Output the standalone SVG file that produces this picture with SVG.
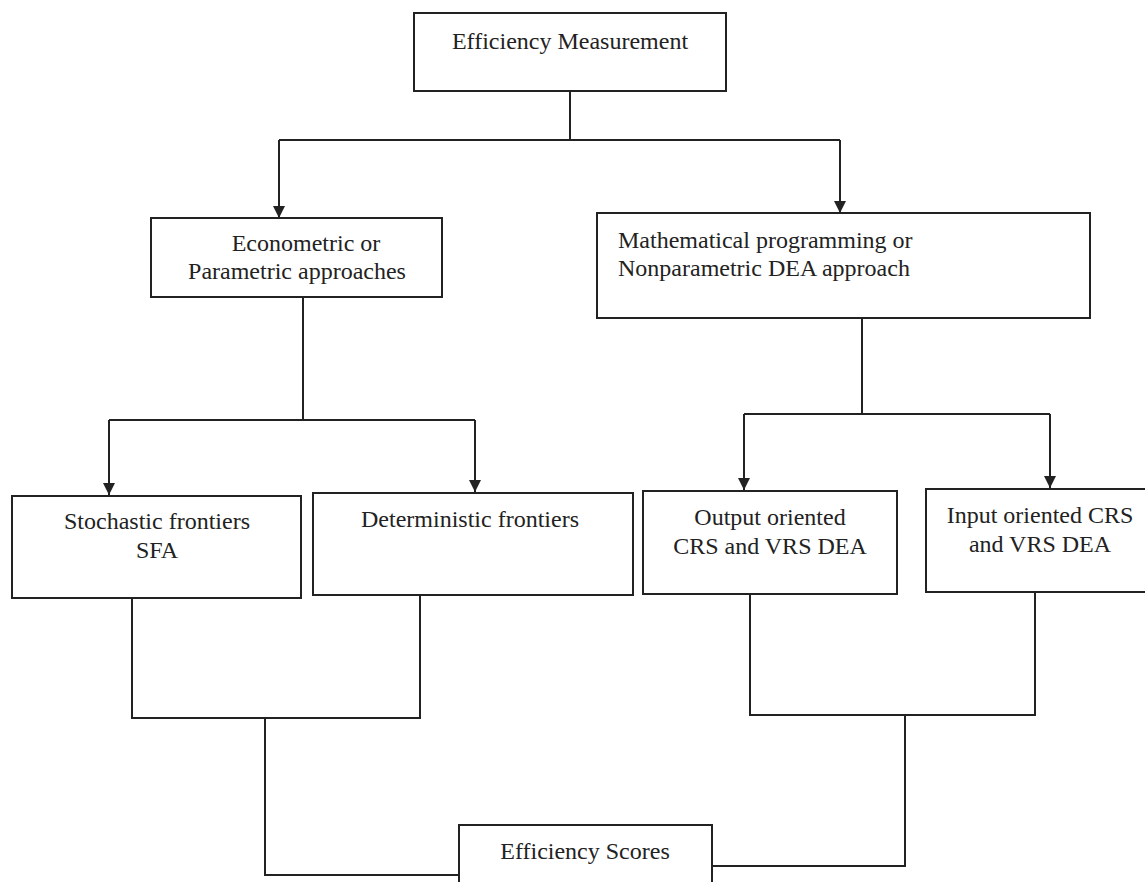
<svg xmlns="http://www.w3.org/2000/svg" width="1145" height="882" viewBox="0 0 1145 882">
<style>
.box{fill:#fff;stroke:#222;stroke-width:2}
.t{font-family:'Liberation Serif','Times New Roman',Tinos,'DejaVu Serif',serif;font-size:24px;fill:#222}
.c{text-anchor:middle}
.ln{fill:none;stroke:#222;stroke-width:2}
</style>
<defs>
<marker id="ah" viewBox="0 0 10 10" refX="10" refY="5" markerWidth="12" markerHeight="12" markerUnits="userSpaceOnUse" orient="auto">
<path d="M0,0 L10,5 L0,10 Z" fill="#222"/>
</marker>
</defs>
<rect width="1145" height="882" fill="#fff"/>
<g id="connectors">
<path class="ln" d="M570,91 V140"/>
<path class="ln" d="M279,140 H840"/>
<path class="ln" d="M279,140 V218" marker-end="url(#ah)"/>
<path class="ln" d="M840,140 V213" marker-end="url(#ah)"/>
<path class="ln" d="M303,297 V420"/>
<path class="ln" d="M109,420 H475"/>
<path class="ln" d="M109,420 V495" marker-end="url(#ah)"/>
<path class="ln" d="M475,420 V492" marker-end="url(#ah)"/>
<path class="ln" d="M862,318 V414"/>
<path class="ln" d="M744,414 H1050"/>
<path class="ln" d="M744,414 V490" marker-end="url(#ah)"/>
<path class="ln" d="M1050,414 V488" marker-end="url(#ah)"/>
<path class="ln" d="M132,598 V718 H420 V595"/>
<path class="ln" d="M265,718 V875 H459"/>
<path class="ln" d="M750,594 V715 H1035 V592"/>
<path class="ln" d="M905,714 V866 H712"/>
</g>
<g id="efficiency-measurement">
<rect class="box" x="414" y="13" width="312" height="78"/>
<text class="t c" x="570" y="49" font-family="Liberation Serif">Efficiency Measurement</text>
</g>
<g id="parametric">
<rect class="box" x="151" y="218" width="291" height="79"/>
<text class="t c" x="306" y="251">Econometric or</text>
<text class="t c" x="297" y="279">Parametric approaches</text>
</g>
<g id="nonparametric">
<rect class="box" x="597" y="213" width="493" height="105"/>
<text class="t" x="618" y="248">Mathematical programming or</text>
<text class="t" x="618" y="276">Nonparametric DEA approach</text>
</g>
<g id="sfa">
<rect class="box" x="12" y="496" width="289" height="102"/>
<text class="t c" x="157" y="529">Stochastic frontiers</text>
<text class="t c" x="157" y="558">SFA</text>
</g>
<g id="deterministic">
<rect class="box" x="313" y="493" width="320" height="102"/>
<text class="t c" x="470" y="527">Deterministic frontiers</text>
</g>
<g id="output-oriented">
<rect class="box" x="643" y="491" width="254" height="103"/>
<text class="t c" x="770" y="525">Output oriented</text>
<text class="t c" x="770" y="554">CRS and VRS DEA</text>
</g>
<g id="input-oriented">
<rect class="box" x="926" y="489" width="230" height="103"/>
<text class="t c" x="1040" y="523">Input oriented CRS</text>
<text class="t c" x="1040" y="552">and VRS DEA</text>
</g>
<g id="efficiency-scores">
<rect class="box" x="459" y="825" width="253" height="70"/>
<text class="t c" x="585" y="859">Efficiency Scores</text>
</g>
</svg>
